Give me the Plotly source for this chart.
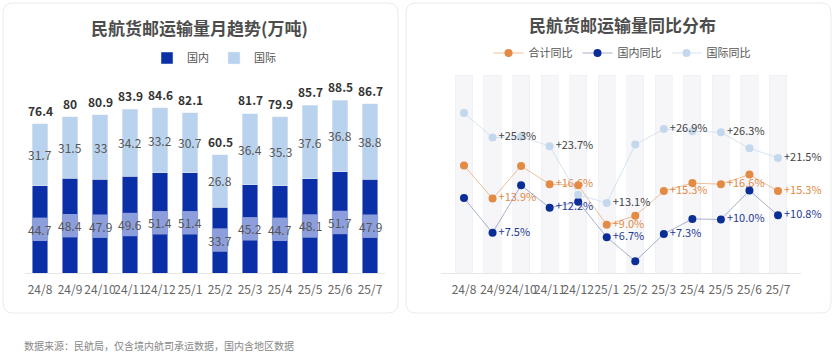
import plotly.graph_objects as go

# ---------------- data ----------------
months = ["24/8", "24/9", "24/10", "24/11", "24/12", "25/1",
          "25/2", "25/3", "25/4", "25/5", "25/6", "25/7"]
domestic = [44.7, 48.4, 47.9, 49.6, 51.4, 51.4, 33.7, 45.2, 44.7, 48.1, 51.7, 47.9]
international = [31.7, 31.5, 33, 34.2, 33.2, 30.7, 26.8, 36.4, 35.3, 37.6, 36.8, 38.8]
totals = [76.4, 80, 80.9, 83.9, 84.6, 82.1, 60.5, 81.7, 79.9, 85.7, 88.5, 86.7]

yoy_total = [20.1, 13.9, 20.0, 16.6, 16.4, 9.0, 10.7, 15.3, 16.8, 16.6, 18.4, 15.3]
yoy_domestic = [14.0, 7.5, 16.4, 12.2, 13.3, 6.7, 2.2, 7.3, 10.1, 10.0, 15.4, 10.8]
yoy_international = [29.9, 25.3, 25.5, 23.7, 14.6, 13.1, 24.0, 26.9, 26.5, 26.3, 23.3, 21.5]

# ---------------- style ----------------
FONT = "Noto Sans CJK SC"
W, H = 834, 358
C_DOM = "#0a2fa6"
C_INT = "#b9d3ee"
C_ORANGE = "#e38a45"
C_NAVY = "#0b2e96"
C_LIGHT = "#c4d8ed"
LEFT_MAX = 101.3
RIGHT_MAX = 37.0


def px(x):
    return x / W


def py(y):
    return 1 - y / H


def fmt(v):
    return f"{v:g}"


def pct_labels(vals):
    return [f"+{v:.1f}%" if i % 2 == 1 else "" for i, v in enumerate(vals)]


fig = go.Figure()

# Left: stacked bars
fig.add_trace(go.Bar(x=months, y=domestic, name="国内", marker_color=C_DOM,
                     xaxis="x", yaxis="y", legend="legend", hoverinfo="skip"))
fig.add_trace(go.Bar(x=months, y=international, name="国际", marker_color=C_INT,
                     xaxis="x", yaxis="y", legend="legend", hoverinfo="skip"))

# Right: background bands
fig.add_trace(go.Bar(x=months, y=[RIGHT_MAX] * len(months), marker_color="#f6f6f8",
                     width=0.6, xaxis="x2", yaxis="y2", showlegend=False,
                     hoverinfo="skip"))

line_specs = [
    ("合计同比", yoy_total, C_ORANGE, "rgba(227,138,69,0.55)", C_ORANGE),
    ("国内同比", yoy_domestic, C_NAVY, "rgba(110,125,175,0.6)", "#1f3a93"),
    ("国际同比", yoy_international, C_LIGHT, "rgba(196,216,237,0.7)", "#444444"),
]
for name, vals, mc, lc, tc in line_specs:
    fig.add_trace(go.Scatter(
        x=months, y=vals, name=name, mode="lines+markers+text",
        marker=dict(color=mc, size=8),
        line=dict(color=lc, width=1),
        text=pct_labels(vals), textposition="middle right",
        textfont=dict(family=FONT, size=11, color=tc),
        cliponaxis=False,
        xaxis="x2", yaxis="y2", legend="legend2", hoverinfo="skip"))

annotations = []
shapes = []

# bar labels
for i, (m, d, it, t) in enumerate(zip(months, domestic, international, totals)):
    shapes.append(dict(type="rect", xref="x", yref="y",
                       x0=i - 0.27, x1=i + 0.27, y0=d / 2 - 6, y1=d / 2 + 6,
                       fillcolor="#8c9fdc", line=dict(width=0), layer="above"))
    annotations.append(dict(x=m, y=d / 2, xref="x", yref="y", text=fmt(d),
                            showarrow=False,
                            font=dict(family=FONT, size=12, color="#555555")))
    annotations.append(dict(x=m, y=d + it / 2, xref="x", yref="y", text=fmt(it),
                            showarrow=False,
                            font=dict(family=FONT, size=12, color="#555555")))
    annotations.append(dict(x=m, y=t, xref="x", yref="y", text=f"<b>{fmt(t)}</b>",
                            showarrow=False, yanchor="bottom", yshift=3,
                            font=dict(family=FONT, size=12, color="#333333")))

# titles
annotations.append(dict(x=px(199), y=py(27), xref="paper", yref="paper",
                        xanchor="center", yanchor="middle",
                        text="<b>民航货邮运输量月趋势(万吨)</b>", showarrow=False,
                        font=dict(family=FONT, size=17, color="#4d4d4d")))
annotations.append(dict(x=px(622), y=py(25), xref="paper", yref="paper",
                        xanchor="center", yanchor="middle",
                        text="<b>民航货邮运输量同比分布</b>", showarrow=False,
                        font=dict(family=FONT, size=17, color="#4d4d4d")))
annotations.append(dict(x=px(22), y=py(345), xref="paper", yref="paper",
                        xanchor="left", yanchor="middle",
                        text="数据来源：民航局，仅含境内航司承运数据，国内含地区数据",
                        showarrow=False, font=dict(family=FONT, size=10, color="#888888")))


# cards with rounded corners
def card(x0, y0, x1, y1, r=10):
    rx, ry = r / W, r / H
    X0, X1 = px(x0), px(x1)
    Y0, Y1 = py(y1), py(y0)  # bottom, top in paper
    path = (f"M{X0 + rx},{Y1} L{X1 - rx},{Y1} Q{X1},{Y1} {X1},{Y1 - ry} "
            f"L{X1},{Y0 + ry} Q{X1},{Y0} {X1 - rx},{Y0} L{X0 + rx},{Y0} "
            f"Q{X0},{Y0} {X0},{Y0 + ry} L{X0},{Y1 - ry} Q{X0},{Y1} {X0 + rx},{Y1} Z")
    return dict(type="path", xref="paper", yref="paper", path=path,
                line=dict(color="#ebebeb", width=1), fillcolor="rgba(0,0,0,0)",
                layer="below")


shapes.append(card(3, 3, 398, 313))
shapes.append(card(406, 3, 831, 313))

axis_common = dict(type="category", showgrid=False, zeroline=False,
                   showline=True, linecolor="#e6e6e6", linewidth=1, ticks="",
                   tickangle=0, ticklabelstandoff=6,
                   tickfont=dict(family=FONT, size=12, color="#666666"),
                   fixedrange=True)
yaxis_common = dict(showgrid=False, zeroline=False, showline=False,
                    showticklabels=False, ticks="", fixedrange=True)

dom_y = [py(273), py(75)]

fig.update_layout(
    width=W, height=H, margin=dict(l=0, r=0, t=0, b=0),
    paper_bgcolor="white", plot_bgcolor="rgba(0,0,0,0)",
    font=dict(family=FONT),
    barmode="stack", bargap=0.47,
    xaxis=dict(domain=[px(25), px(385)], anchor="y", **axis_common),
    yaxis=dict(domain=dom_y, range=[0, LEFT_MAX], anchor="x", **yaxis_common),
    xaxis2=dict(domain=[px(441), px(801)], anchor="y2", **axis_common),
    yaxis2=dict(domain=dom_y, range=[0, RIGHT_MAX], anchor="x2", **yaxis_common),
    legend=dict(orientation="h", x=px(214), y=py(58), xanchor="center",
                yanchor="middle", traceorder="normal",
                font=dict(family=FONT, size=11, color="#555555"),
                bgcolor="rgba(0,0,0,0)", itemwidth=30),
    legend2=dict(orientation="h", x=px(622), y=py(53), xanchor="center",
                 yanchor="middle", traceorder="normal",
                 font=dict(family=FONT, size=11, color="#555555"),
                 bgcolor="rgba(0,0,0,0)", itemwidth=30),
    shapes=shapes,
    annotations=annotations,
    showlegend=True,
)

fig.write_html("out.html", config={"displayModeBar": False},
               post_script="document.body.style.margin='0';document.body.style.overflow='hidden';")
